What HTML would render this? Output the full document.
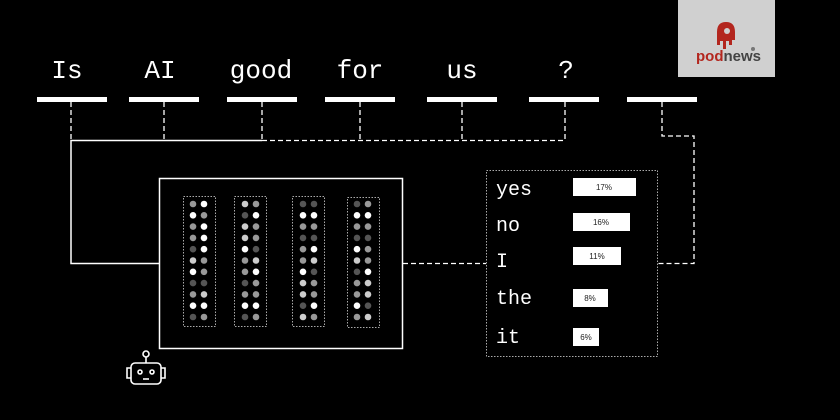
<!DOCTYPE html>
<html><head><style>
html,body{margin:0;padding:0;background:#000;}
svg{display:block;}
.t{font-family:"Liberation Mono",monospace;fill:#fff;}
</style></head><body>
<svg width="840" height="420" viewBox="0 0 840 420" xmlns="http://www.w3.org/2000/svg">
<rect width="840" height="420" fill="#000"/>
<!-- logo -->
<rect x="678" y="0" width="97" height="77" fill="#d0d0d0"/>
<path d="M717 32 q0 -10 9 -10 q9 0 9 10 v8 h-3 v5 h-3 v-4 h-3 v8 h-3 v-8 h-3 v4 h-3 z" fill="#b3261e"/>
<circle cx="727" cy="31" r="3" fill="#d0d0d0"/>
<text x="696" y="61" font-family="Liberation Sans,sans-serif" font-size="15" font-weight="bold" fill="#b3261e">pod<tspan fill="#444">news</tspan></text>
<circle cx="753" cy="49" r="2" fill="#777"/>
<!-- words -->
<g class="t" font-size="26" text-anchor="middle">
<text x="67" y="78">Is</text>
<text x="160" y="78">AI</text>
<text x="261" y="78">good</text>
<text x="360" y="78">for</text>
<text x="462" y="78">us</text>
<text x="566" y="78">?</text>
</g>
<g fill="#fff">
<rect x="37" y="97" width="70" height="5"/>
<rect x="129" y="97" width="70" height="5"/>
<rect x="227" y="97" width="70" height="5"/>
<rect x="325" y="97" width="70" height="5"/>
<rect x="427" y="97" width="70" height="5"/>
<rect x="529" y="97" width="70" height="5"/>
<rect x="627" y="97" width="70" height="5"/>
</g>
<g stroke="#fff" stroke-width="1.3" fill="none" stroke-dasharray="5,3">
<path d="M71 102V140M164 102V140M262 102V140M360 102V140M462 102V140M565 102V140"/>
<path d="M262 140.5H565"/>
<path d="M662 102V136H694V263.5H657"/>
<path d="M403 263.5H486"/>
</g>
<g stroke="#fff" stroke-width="1.5" fill="none">
<path d="M262 140.5H71V263.5H159"/>
<rect x="159.5" y="178.5" width="243" height="170"/>
</g>
<g stroke="#aaa" stroke-width="1" fill="none" stroke-dasharray="1.5,1.5">
<rect x="183.5" y="196.5" width="32" height="130"/>
<rect x="234.5" y="196.5" width="32" height="130"/>
<rect x="292.5" y="196.5" width="32" height="130"/>
<rect x="347.5" y="197.5" width="32" height="130"/>
<rect x="486.5" y="170.5" width="171" height="186"/>
</g>
<g id="dots"></g>
<!-- bars -->
<g class="t" font-size="20">
<text x="496" y="195">yes</text>
<text x="496" y="231">no</text>
<text x="496" y="267">I</text>
<text x="496" y="304">the</text>
<text x="496" y="343">it</text>
</g>
<g fill="#fff">
<rect x="573" y="178" width="63" height="18"/>
<rect x="573" y="213" width="57" height="18"/>
<rect x="573" y="247" width="48" height="18"/>
<rect x="573" y="289" width="35" height="18"/>
<rect x="573" y="328" width="26" height="18"/>
</g>
<g font-family="Liberation Sans,sans-serif" font-size="8" fill="#222" text-anchor="middle">
<text x="604" y="190">17%</text>
<text x="601" y="225">16%</text>
<text x="597" y="259">11%</text>
<text x="590" y="301">8%</text>
<text x="586" y="340">6%</text>
</g>
<!-- robot -->
<g stroke="#fff" stroke-width="1.6" fill="none">
<circle cx="146" cy="354" r="3"/>
<path d="M146 357V363"/>
<rect x="131" y="363" width="30" height="21" rx="4"/>
<path d="M131 368h-4v10h4M161 368h4v10h-4"/>
<circle cx="140" cy="372" r="2"/>
<circle cx="152" cy="372" r="2"/>
<path d="M143 379h6"/>
</g>
</svg>
<script>
var cols=[[193,204],[245,256],[303,314],[357,368]];
var c={w:"#fff",l:"#ccc",m:"#999",d:"#555"};
var p=[
["mw","wm","mw","mw","dw","lm","wm","dd","ml","ww","dm"],
["lm","dw","lm","lm","wd","ml","mw","dm","mm","ww","dm"],
["dd","ww","mm","dd","mw","ml","wd","lm","lm","dw","lm"],
["dm","ww","mm","dd","wm","lm","dw","ml","ml","wd","ml"]];
var s="";
for(var i=0;i<4;i++)for(var r=0;r<11;r++)for(var k=0;k<2;k++){
s+='<circle cx="'+cols[i][k]+'" cy="'+(204+r*11.3)+'" r="3.3" fill="'+c[p[i][r][k]]+'"/>';}
document.getElementById("dots").innerHTML=s;
</script>
</body></html>
